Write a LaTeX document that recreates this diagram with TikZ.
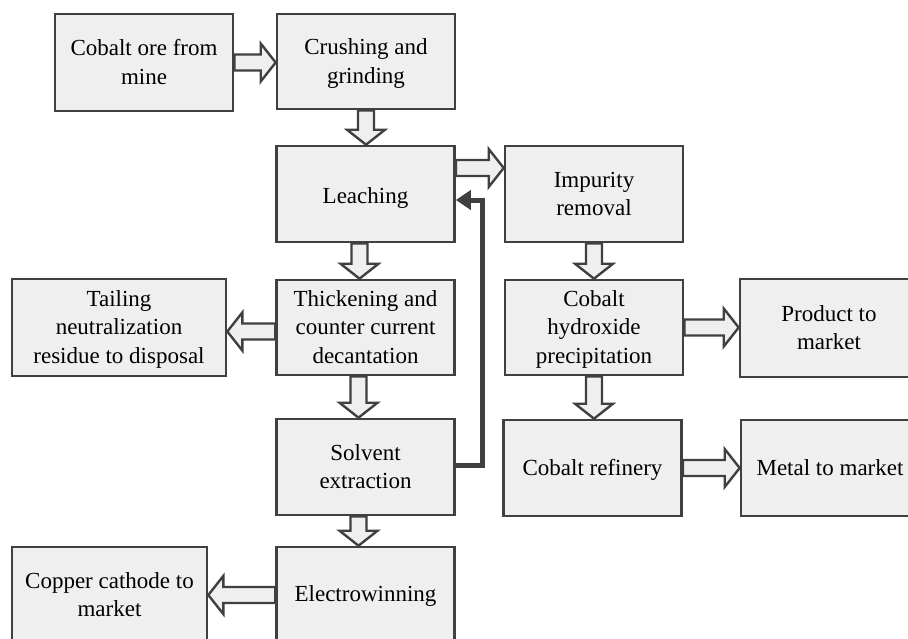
\documentclass[tikz,border=0pt]{standalone}
\usepackage{fontspec}
\setmainfont{Liberation Serif}
\usetikzlibrary{calc,arrows.meta}
\definecolor{boxfill}{HTML}{EFEFEF}
\definecolor{boxline}{HTML}{404040}
\tikzset{
  procbox/.style={draw=boxline, fill=boxfill, line width=2.6pt, align=center,
    minimum width=178pt, minimum height=96pt, inner sep=2pt,
    font=\fontsize{23}{28.5}\selectfont},
  blockarr/.style={draw=boxline, fill=boxfill, line width=2.4pt, line join=miter},
  fbline/.style={draw=boxline, line width=5pt, line join=miter,
    -{Triangle[length=15pt,width=19pt]}}
}
% struts for vertical placement of text
\newcommand{\Tm}{\rule{0pt}{19.5pt}}
\newcommand{\Bm}{\rule[-5pt]{0pt}{5pt}}
\newcommand{\bshaft}{8pt}
\newcommand{\bhalf}{19pt}
\newcommand{\bhead}{15pt}
% #1, #2: names of coordinates (start, tip)
\newcommand{\blockarrow}[2]{%
  \path ($(#2)!\bhead!(#1)$) coordinate (ba-m);
  \draw[blockarr] ($(#1)!\bshaft!90:(#2)$) -- ($(ba-m)!\bshaft!90:(#2)$)
    -- ($(ba-m)!\bhalf!90:(#2)$) -- (#2) -- ($(ba-m)!\bhalf!-90:(#2)$)
    -- ($(ba-m)!\bshaft!-90:(#2)$) -- ($(#1)!\bshaft!-90:(#2)$) -- cycle;}
\begin{document}
\begin{tikzpicture}[x=1pt,y=-1pt]
\useasboundingbox (0,0) rectangle (908,638);
\clip (0,0) rectangle (908,638);
\fill[white] (0,0) rectangle (908,638);
% boxes
\node[procbox, minimum height=97pt] (ore) at (144,62.5) {\Tm Cobalt ore from\\mine\Bm};
\node[procbox, minimum height=95pt] (crush) at (366,61.5) {\Tm Crushing and\\grinding\Bm};
\node[procbox] (leach) at (365.5,194) {\rule{0pt}{23pt}Leaching\Bm};
\node[procbox, minimum height=95pt] (thick) at (365.5,327.5) {\Tm Thickening and\\counter current\\decantation\Bm};
\node[procbox, minimum width=214pt, minimum height=97pt] (tail) at (119,327.5) {\Tm Tailing\\neutralization\\residue to disposal\Bm};
\node[procbox] (solv) at (365.5,467) {\Tm Solvent\\extraction\Bm};
\node[procbox] (elec) at (365.5,595) {\rule{0pt}{18pt}Electrowinning\Bm};
\node[procbox, minimum width=195pt] (copper) at (109.5,595) {\Tm Copper cathode to\\market\Bm};
\node[procbox] (imp) at (594,194) {\Tm Impurity\\removal\Bm};
\node[procbox, minimum height=95pt] (coh) at (594,327.5) {\Tm Cobalt\\hydroxide\\precipitation\Bm};
\node[procbox, minimum height=98pt] (prod) at (829,328) {\Tm Product to\\market\Bm};
\node[procbox] (ref) at (592.5,468) {\rule{0pt}{19pt}Cobalt refinery\Bm};
\node[procbox] (metal) at (830,468) {\rule{0pt}{19pt}Metal to market\Bm};
% arrow end points
\coordinate (a1s) at (ore.east);        \coordinate (a1e) at (a1s -| crush.west);
\coordinate (a2s) at (crush.south);     \coordinate (a2e) at (a2s |- leach.north);
\coordinate (a3s) at ($(leach.east)+(0,-26)$); \coordinate (a3e) at (a3s -| imp.west);
\coordinate (a4s) at ($(leach.south)+(-6,0)$); \coordinate (a4e) at (a4s |- thick.north);
\coordinate (a5s) at ($(thick.west)+(0,4)$);   \coordinate (a5e) at (a5s -| tail.east);
\coordinate (a6s) at ($(thick.south)+(-7,0)$); \coordinate (a6e) at (a6s |- solv.north);
\coordinate (a7s) at ($(solv.south)+(-7,0)$);  \coordinate (a7e) at (a7s |- elec.north);
\coordinate (a8s) at (elec.west);       \coordinate (a8e) at (a8s -| copper.east);
\coordinate (a9s) at (imp.south);       \coordinate (a9e) at (a9s |- coh.north);
\coordinate (a10s) at (coh.east);       \coordinate (a10e) at (a10s -| prod.west);
\coordinate (a11s) at (coh.south);      \coordinate (a11e) at (a11s |- ref.north);
\coordinate (a12s) at (ref.east);       \coordinate (a12e) at (a12s -| metal.west);
% block arrows
\blockarrow{a1s}{a1e}
\blockarrow{a2s}{a2e}
\blockarrow{a3s}{a3e}
\blockarrow{a4s}{a4e}
\blockarrow{a5s}{a5e}
\blockarrow{a6s}{a6e}
\blockarrow{a7s}{a7e}
\blockarrow{a8s}{a8e}
\blockarrow{a9s}{a9e}
\blockarrow{a10s}{a10e}
\blockarrow{a11s}{a11e}
\blockarrow{a12s}{a12e}
% feedback line
\coordinate (fbs) at ($(solv.east)+(0,-2)$);
\coordinate (fbt) at ($(leach.east)+(0,6)$);
\coordinate (fbc) at ($(fbt)+(27,0)$);
\draw[fbline] (fbs) -| (fbc) -- (fbt);
\end{tikzpicture}
\end{document}
